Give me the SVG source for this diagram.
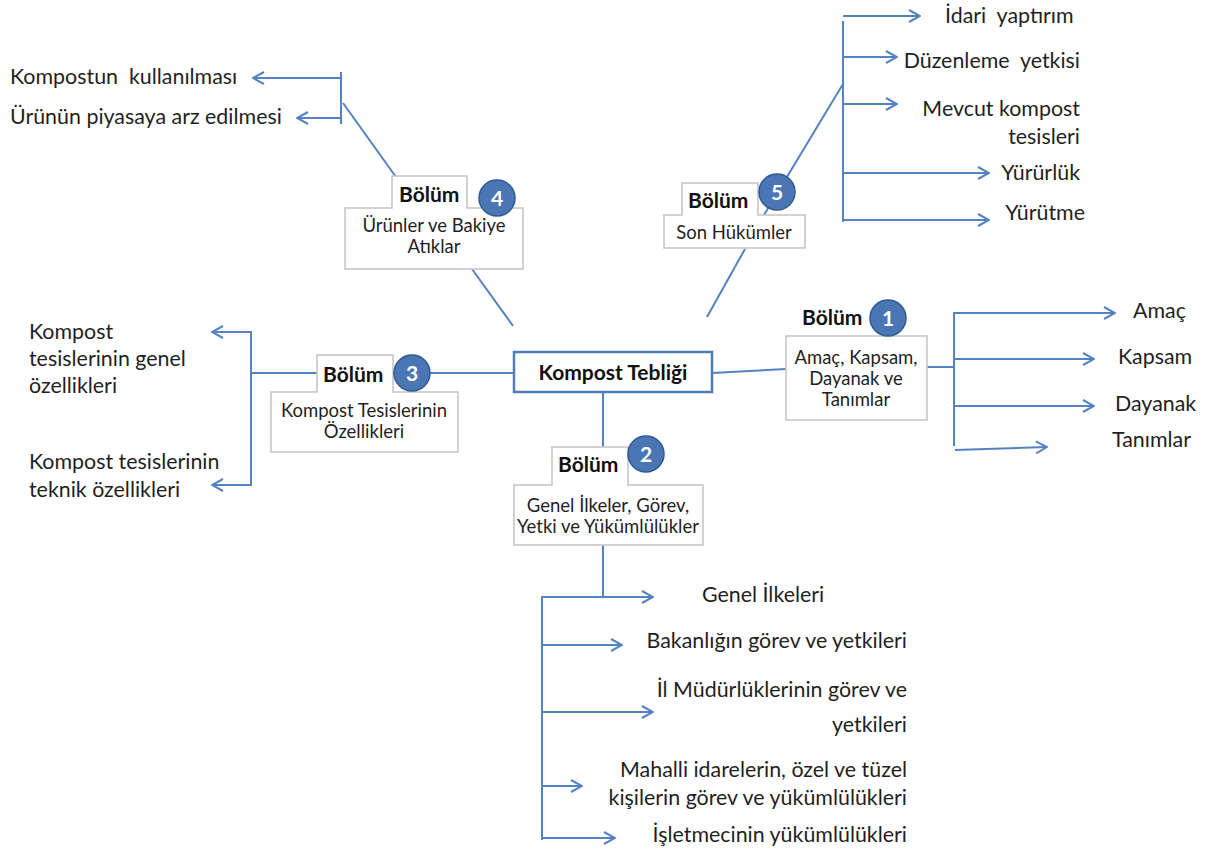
<svg xmlns="http://www.w3.org/2000/svg" width="1206" height="855" viewBox="0 0 1206 855">
  <defs>
    <style>
      .ln { stroke: #5582c0; stroke-width: 2; fill: none; }
      .ar { stroke: #5582c0; stroke-width: 2; fill: none; marker-end: url(#arrow); }
      .box { fill: #ffffff; stroke: #c4c4c4; stroke-width: 1.5; }
      .main { fill: #ffffff; stroke: #4f7db8; stroke-width: 2.5; }
      .t { font-family: Lato, "Liberation Sans", sans-serif; font-size: 21.4px; fill: #1f1f1f; }
      .s { font-family: Lato, "Liberation Sans", sans-serif; font-size: 18.5px; fill: #1f1f1f; }
      .bt { font-family: Lato, "Liberation Sans", sans-serif; font-size: 21px; font-weight: bold; fill: #111111; }
      .num { fill: #4a76b4; stroke: #2f5a93; stroke-width: 1.5; }
      .nt { font-family: Lato, "Liberation Sans", sans-serif; font-size: 21px; font-weight: bold; fill: #ffffff; text-anchor: middle; }
      .c { text-anchor: middle; }
      .e { text-anchor: end; }
    </style>
    <marker id="arrow" viewBox="0 0 14 14" refX="13" refY="7" markerWidth="14" markerHeight="14" markerUnits="userSpaceOnUse" orient="auto">
      <path d="M2,1 L13,7 L2,13" fill="none" stroke="#5582c0" stroke-width="2"/>
    </marker>
  </defs>

  <!-- connectors -->
  <g id="connectors">
    <!-- root to sections -->
    <line class="ln" x1="251" y1="373" x2="514" y2="373"/>
    <line class="ln" x1="712" y1="373" x2="786" y2="369"/>
    <line class="ln" x1="603" y1="392" x2="603" y2="447"/>
    <line class="ln" x1="513" y1="326" x2="472" y2="269"/>
    <line class="ln" x1="707" y1="317" x2="745" y2="249"/>

    <!-- section 4 branch -->
    <line class="ln" x1="396" y1="177" x2="343" y2="103"/>
    <line class="ln" x1="341" y1="72" x2="341" y2="124"/>
    <line class="ar" x1="341" y1="78" x2="253" y2="78"/>
    <line class="ar" x1="341" y1="118" x2="297" y2="118"/>

    <!-- section 5 branch -->
    <line class="ln" x1="764" y1="215" x2="843" y2="84"/>
    <line class="ln" x1="843" y1="21" x2="843" y2="222"/>
    <line class="ar" x1="843" y1="16" x2="920" y2="16"/>
    <line class="ar" x1="843" y1="57" x2="897" y2="57"/>
    <line class="ar" x1="843" y1="104" x2="897" y2="104"/>
    <line class="ar" x1="843" y1="173" x2="989" y2="173"/>
    <line class="ar" x1="843" y1="220" x2="989" y2="220"/>

    <!-- section 1 branch -->
    <line class="ln" x1="927" y1="367" x2="954" y2="367"/>
    <line class="ln" x1="954" y1="312" x2="954" y2="446"/>
    <line class="ar" x1="954" y1="313" x2="1115" y2="313"/>
    <line class="ar" x1="954" y1="359" x2="1094" y2="359"/>
    <line class="ar" x1="954" y1="406" x2="1094" y2="406"/>
    <line class="ar" x1="955" y1="450" x2="1047" y2="447"/>

    <!-- section 3 branch -->
    <line class="ln" x1="251" y1="331" x2="251" y2="486"/>
    <line class="ar" x1="251" y1="332" x2="212" y2="332"/>
    <line class="ar" x1="251" y1="485" x2="212" y2="485"/>

    <!-- section 2 branch -->
    <line class="ln" x1="603" y1="545" x2="603" y2="597"/>
    <line class="ln" x1="542" y1="596" x2="542" y2="840"/>
    <line class="ar" x1="542" y1="597" x2="653" y2="597"/>
    <line class="ar" x1="542" y1="645" x2="622" y2="645"/>
    <line class="ar" x1="542" y1="712" x2="653" y2="712"/>
    <line class="ar" x1="542" y1="786" x2="582" y2="786"/>
    <line class="ar" x1="542" y1="838" x2="615" y2="838"/>
  </g>

  <!-- root -->
  <g id="root">
    <rect class="main" x="514" y="352" width="198" height="40"/>
    <text class="bt c" x="613" y="380">Kompost Tebliği</text>
  </g>

  <!-- section 1 -->
  <g id="section1">
    <rect class="box" x="786" y="336" width="141" height="84"/>
    <text class="bt" x="802" y="325">Bölüm</text>
    <circle class="num" cx="888" cy="318" r="18"/>
    <text class="nt" x="888" y="326">1</text>
    <text class="s c" x="856" y="364">Amaç, Kapsam,</text>
    <text class="s c" x="856" y="385">Dayanak ve</text>
    <text class="s c" x="856" y="406">Tanımlar</text>
  </g>

  <!-- section 2 -->
  <g id="section2">
    <path class="box" d="M514,485 H552 V447 H628 V485 H703 V545 H514 Z"/>
    <text class="bt" x="558" y="472">Bölüm</text>
    <circle class="num" cx="646" cy="454" r="18"/>
    <text class="nt" x="646" y="462">2</text>
    <text class="s c" x="608" y="512">Genel İlkeler, Görev,</text>
    <text class="s c" x="608" y="533">Yetki ve Yükümlülükler</text>
  </g>

  <!-- section 3 -->
  <g id="section3">
    <path class="box" d="M271,392 H317 V355 H393 V392 H458 V452 H271 Z"/>
    <text class="bt" x="323" y="382">Bölüm</text>
    <circle class="num" cx="412" cy="373" r="18"/>
    <text class="nt" x="412" y="381">3</text>
    <text class="s c" x="364" y="417">Kompost Tesislerinin</text>
    <text class="s c" x="364" y="438">Özellikleri</text>
  </g>

  <!-- section 4 -->
  <g id="section4">
    <path class="box" d="M345,208 H392 V176 H467 V208 H523 V269 H345 Z"/>
    <text class="bt" x="399" y="202">Bölüm</text>
    <circle class="num" cx="497" cy="198" r="18"/>
    <text class="nt" x="497" y="206">4</text>
    <text class="s c" x="434" y="232">Ürünler ve Bakiye</text>
    <text class="s c" x="434" y="253">Atıklar</text>
  </g>

  <!-- section 5 -->
  <g id="section5">
    <path class="box" d="M664,215 H682 V183 H758 V215 H805 V248 H664 Z"/>
    <text class="bt" x="688" y="208">Bölüm</text>
    <circle class="num" cx="777" cy="192" r="18"/>
    <text class="nt" x="777" y="200">5</text>
    <text class="s c" x="734" y="239">Son Hükümler</text>
  </g>

  <!-- leaf labels -->
  <g id="leaves4">
    <text class="t" x="10" y="84" xml:space="preserve">Kompostun  kullanılması</text>
    <text class="t" x="10" y="124">Ürünün piyasaya arz edilmesi</text>
  </g>
  <g id="leaves5">
    <text class="t" x="945" y="23" xml:space="preserve">İdari  yaptırım</text>
    <text class="t e" x="1080" y="68" xml:space="preserve">Düzenleme  yetkisi</text>
    <text class="t e" x="1080" y="116">Mevcut kompost</text>
    <text class="t e" x="1080" y="144">tesisleri</text>
    <text class="t e" x="1080" y="180">Yürürlük</text>
    <text class="t e" x="1085" y="220">Yürütme</text>
  </g>
  <g id="leaves1">
    <text class="t" x="1133" y="318">Amaç</text>
    <text class="t" x="1118" y="364">Kapsam</text>
    <text class="t" x="1115" y="411">Dayanak</text>
    <text class="t" x="1112" y="447">Tanımlar</text>
  </g>
  <g id="leaves3">
    <text class="t" x="29" y="339">Kompost</text>
    <text class="t" x="29" y="366">tesislerinin genel</text>
    <text class="t" x="29" y="393">özellikleri</text>
    <text class="t" x="29" y="469">Kompost tesislerinin</text>
    <text class="t" x="29" y="497">teknik özellikleri</text>
  </g>
  <g id="leaves2">
    <text class="t" x="702" y="602">Genel İlkeleri</text>
    <text class="t e" x="907" y="648">Bakanlığın görev ve yetkileri</text>
    <text class="t e" x="907" y="697">İl Müdürlüklerinin görev ve</text>
    <text class="t e" x="907" y="732">yetkileri</text>
    <text class="t e" x="907" y="777">Mahalli idarelerin, özel ve tüzel</text>
    <text class="t e" x="907" y="805">kişilerin görev ve yükümlülükleri</text>
    <text class="t e" x="907" y="842">İşletmecinin yükümlülükleri</text>
  </g>
</svg>
